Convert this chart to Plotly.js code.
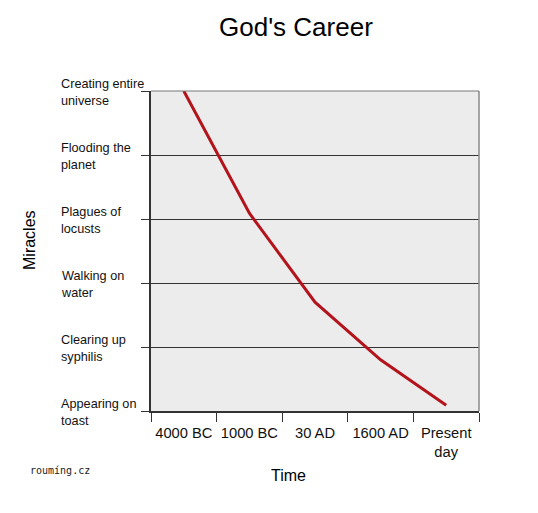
<!DOCTYPE html>
<html>
<head>
<meta charset="utf-8">
<script src="https://cdn.plot.ly/plotly-3.0.1.min.js"></script>
<style>
html,body{margin:0;padding:0;background:#fff;}
#chart{width:538px;height:513px;}
</style>
</head>
<body>
<div id="chart"></div>
<script>
var periods = ["4000 BC", "1000 BC", "30 AD", "1600 AD", "Present<br>day"];
var miracleLevel = [5.0, 3.09, 1.70, 0.80, 0.09];
var miracleLabels = ["Appearing on<br>toast", "Clearing up<br>syphilis", "Walking on<br>water", "Plagues of<br>locusts", "Flooding the<br>planet", "Creating entire<br>universe"];
var miracleTicks = [0, 1, 2, 3, 4, 5];

var font = "Liberation Sans, Arial, sans-serif";

var annotations = miracleLabels.map(function (t, i) {
  return {
    text: t, xref: "paper", yref: "y", x: -0.279, y: miracleTicks[i],
    xanchor: "left", yanchor: "middle", align: "left", showarrow: false,
    yshift: -1,
    font: {family: font, size: 12.7, color: "#111"}
  };
});
annotations.push({
  text: "roumíng.cz", xref: "paper", yref: "paper",
  x: -0.375, y: -0.186, xanchor: "left", yanchor: "middle", showarrow: false,
  font: {family: "DejaVu Sans Mono, monospace", size: 10, color: "#222"}
});
annotations.push({
  text: "Time", xref: "paper", yref: "paper",
  x: (288 - 151) / 328, y: -0.2015, xanchor: "center", yanchor: "middle", showarrow: false,
  font: {family: font, size: 16, color: "#000"}
});
annotations.push({
  text: "Miracles", xref: "paper", yref: "paper", textangle: -90,
  x: (29 - 151) / 328, y: (411 - 240) / 320, xanchor: "center", yanchor: "middle", showarrow: false,
  font: {family: font, size: 16, color: "#000"}
});

var data = [{
  type: "scatter", mode: "lines",
  x: periods, y: miracleLevel,
  line: {color: "#b3141c", width: 3},
  hoverinfo: "skip"
}];

var layout = {
  width: 538, height: 513,
  margin: {l: 151, r: 59, t: 91, b: 102},
  paper_bgcolor: "#ffffff",
  plot_bgcolor: "#ececec",
  showlegend: false,
  title: {text: "God's Career", x: 0.55, xanchor: "center", y: 0.947, yanchor: "middle",
          font: {family: font, size: 26, color: "#000"}},
  xaxis: {
    type: "category", range: [-0.5, 4.5],
    tickson: "boundaries", ticks: "outside", ticklen: 9, tickwidth: 1, tickcolor: "#333",
    ticklabelstandoff: 7, tickangle: 0,
    showgrid: false, showline: true, linecolor: "#333", linewidth: 2,
    tickfont: {family: font, size: 14.7, color: "#111"},
    fixedrange: true
  },
  yaxis: {
    range: [0, 5], tickvals: miracleTicks, ticktext: miracleTicks.map(function(){return "";}),
    ticks: "outside", ticklen: 8, tickwidth: 1, tickcolor: "#333",
    showgrid: true, gridcolor: "#333", gridwidth: 1,
    zeroline: false, showline: true, linecolor: "#333", linewidth: 2,
    fixedrange: true
  },
  shapes: [
    {type: "line", xref: "paper", yref: "paper", x0: 1, x1: 1, y0: 0, y1: 1,
     line: {color: "#888", width: 1.5}},
    {type: "line", xref: "paper", yref: "paper", x0: 0, x1: 1, y0: 1, y1: 1,
     line: {color: "#777", width: 1}}
  ],
  annotations: annotations
};

Plotly.newPlot("chart", data, layout, {displayModeBar: false, staticPlot: true});
</script>
</body>
</html>
